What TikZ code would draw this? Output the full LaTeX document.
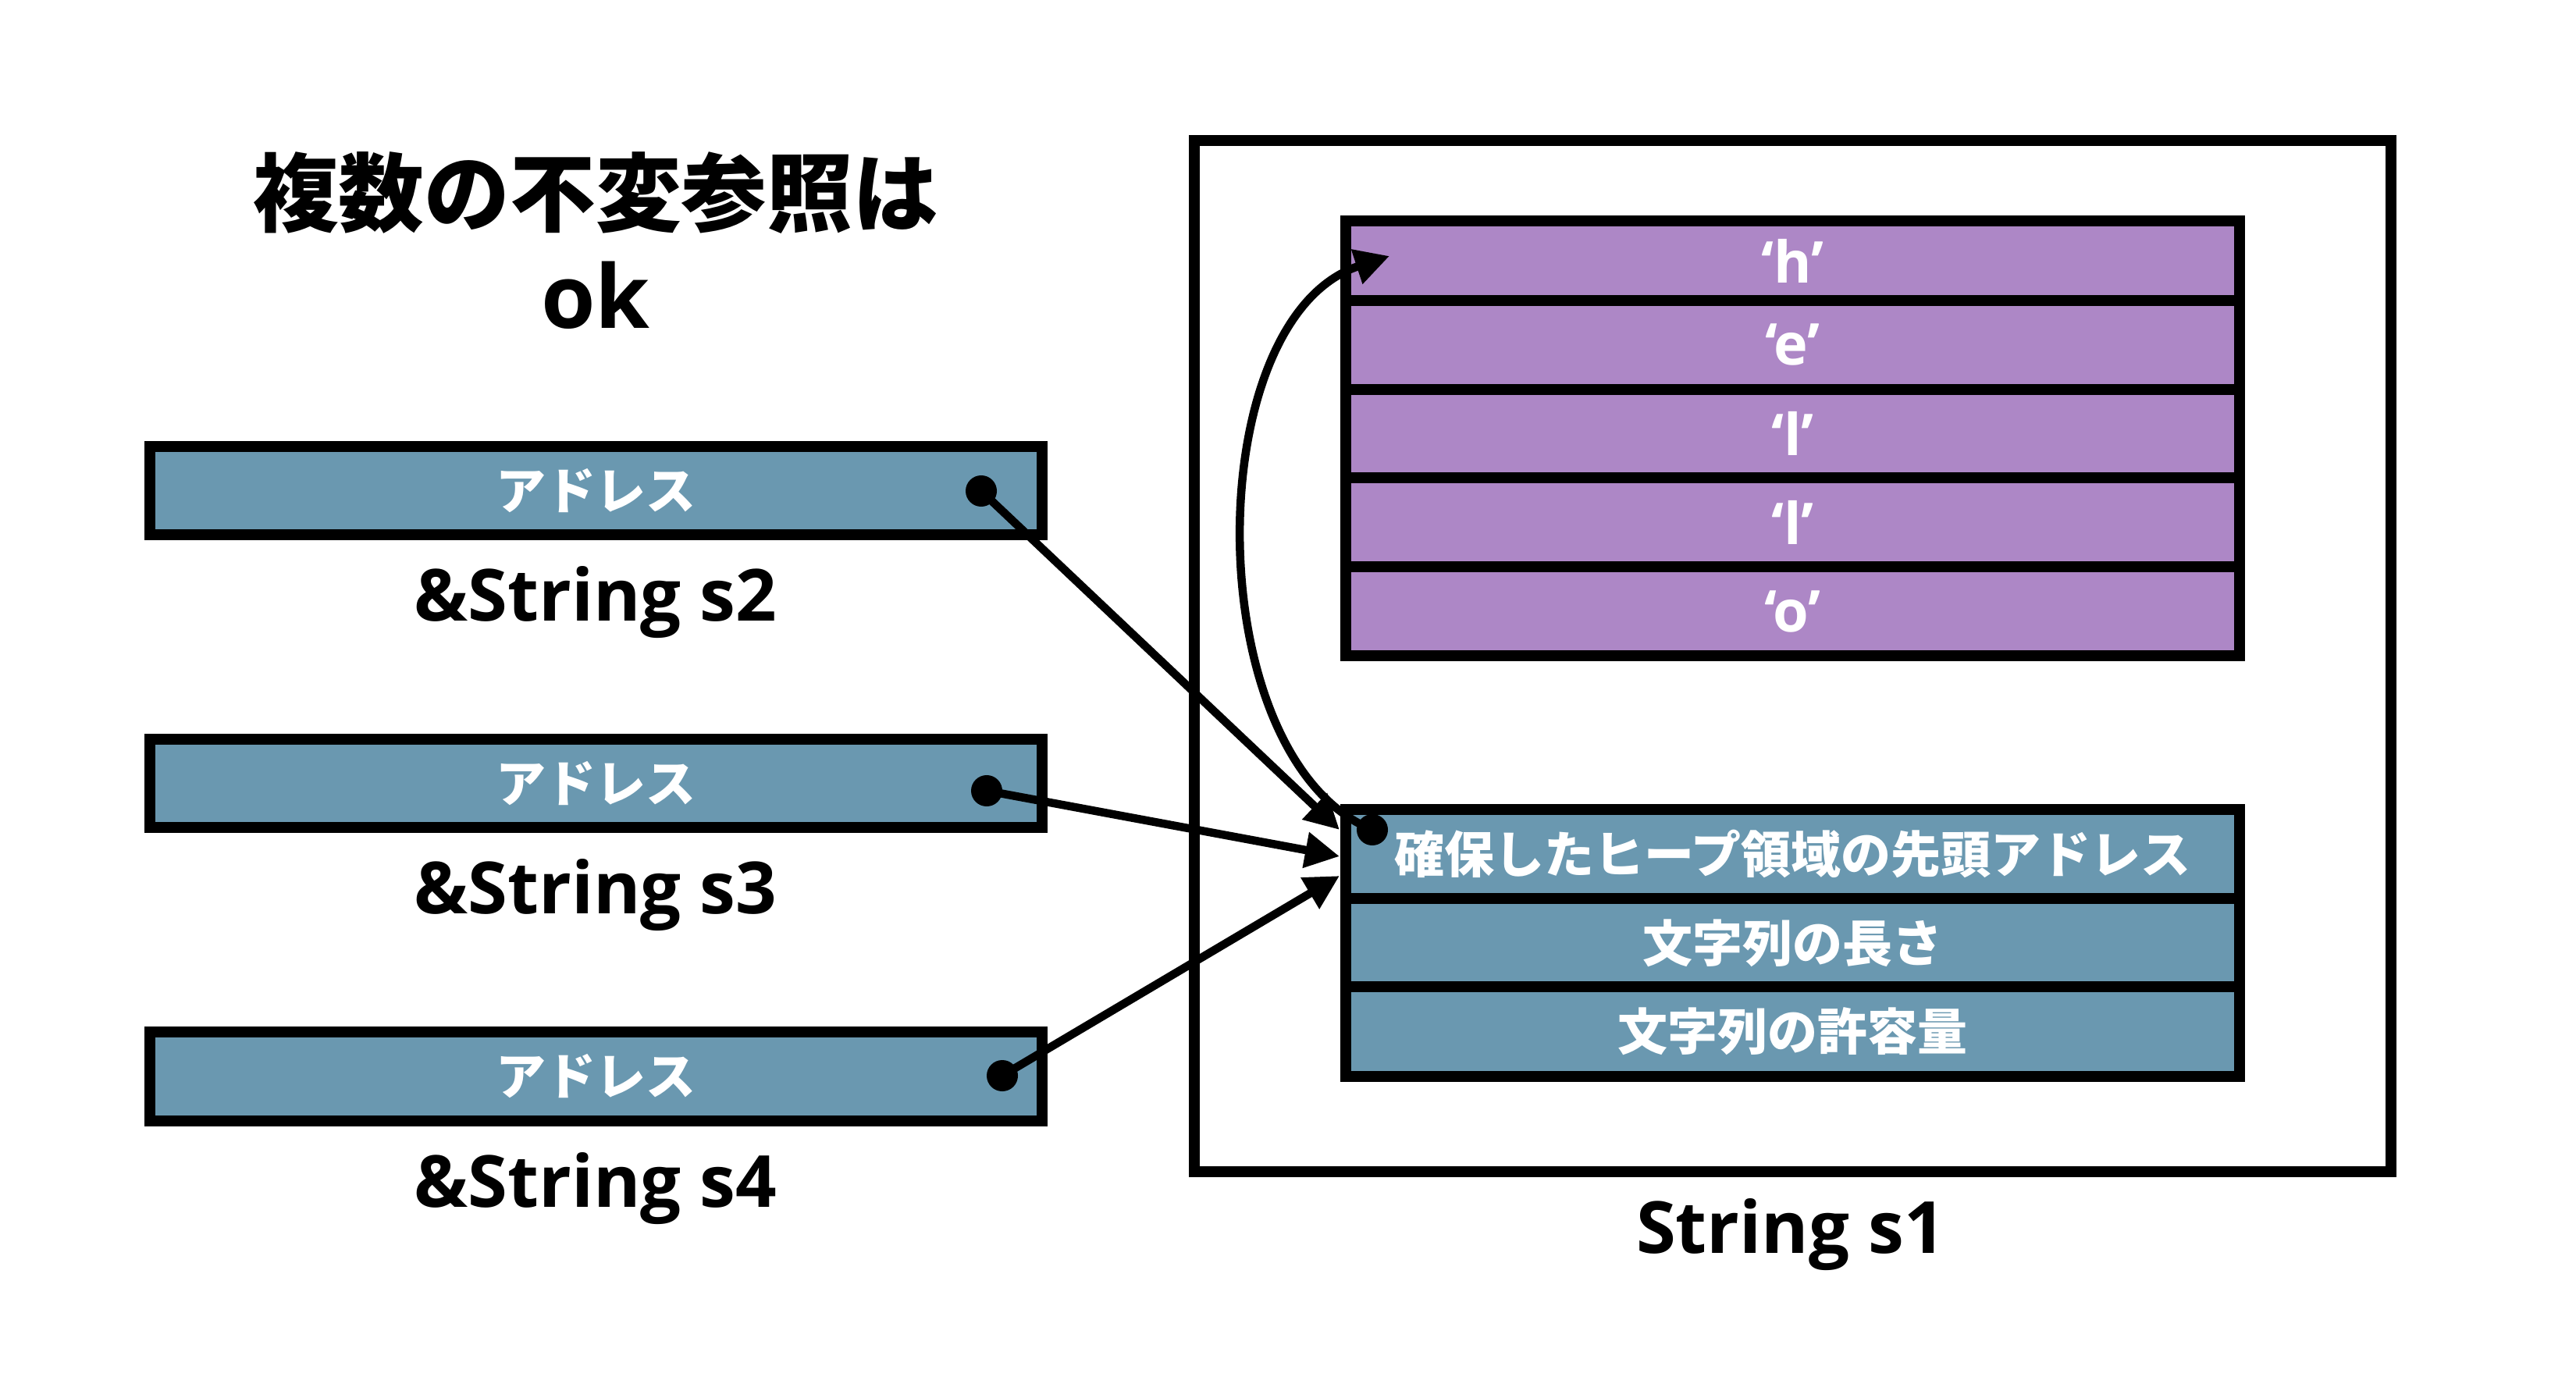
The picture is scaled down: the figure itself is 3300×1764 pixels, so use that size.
\documentclass[tikz,border=0pt]{standalone}
\usepackage{fontspec}
\setmainfont{Open Sans}
\newfontfamily\cjk{Noto Sans CJK JP}
\usetikzlibrary{arrows.meta}
\definecolor{boxblue}{HTML}{6A98B0}
\definecolor{boxpurple}{HTML}{AD87C6}
\begin{document}
\begin{tikzpicture}[x=0.01cm,y=-0.01cm,
  boxframe/.style={draw=black,line width=0.14cm},
  ptrbox/.style={boxframe,fill=boxblue,minimum width=11.43cm,minimum height=1.13cm,inner sep=0pt,text=white,font=\cjk\bfseries\fontsize{18.2}{20}\selectfont},
  heaprow/.style={boxframe,fill=boxpurple,minimum width=11.45cm,inner sep=0pt,text=white,font=\bfseries\fontsize{21}{24}\selectfont},
  metarow/.style={boxframe,fill=boxblue,minimum width=11.45cm,minimum height=1.14cm,inner sep=0pt,text=white,font=\cjk\bfseries\fontsize{18.2}{20}\selectfont},
  lbl/.style={font=\bfseries\fontsize{26.2}{30}\selectfont,anchor=base,inner sep=0pt},
  titletext/.style={font=\cjk\bfseries\fontsize{31.2}{36}\selectfont,inner sep=0pt},
  oktext/.style={font=\bfseries\fontsize{32}{36}\selectfont,anchor=base,inner sep=0pt},
  dotc/.style={circle,fill=black,minimum size=0.4cm,inner sep=0pt},
  ptr/.style={line width=0.105cm,-{Triangle[length=0.44cm,width=0.44cm]}},
]
\useasboundingbox (0,0) rectangle (3300,1764);
% title
\node[titletext] (title) at (763,247) {複数の不変参照は};
\node[oktext] (ok) at (763,421) {ok};
% String s1 frame
\node[boxframe,minimum width=15.33cm,minimum height=13.21cm,inner sep=0pt] (s1box) at (2296.5,840.5) {};
\node[lbl] (s1lab) at (2294,1605) {String s1};
% heap rows
\node[heaprow,minimum height=1.02cm] (h) at (2296.5,334) {‘h’};
\node[heaprow,minimum height=1.14cm] (e) at (2296.5,442) {‘e’};
\node[heaprow,minimum height=1.13cm] (l1) at (2296.5,555.5) {‘l’};
\node[heaprow,minimum height=1.14cm] (l2) at (2296.5,669) {‘l’};
\node[heaprow,minimum height=1.14cm] (o) at (2296.5,783) {‘o’};
% meta rows
\node[metarow] (addr) at (2296.5,1094) {確保したヒープ領域の先頭アドレス};
\node[metarow] (len) at (2296.5,1208) {文字列の長さ};
\node[metarow] (cap) at (2296.5,1321.5) {文字列の許容量};
% references
\node[ptrbox] (s2) at (763.5,628.5) {アドレス};
\node[lbl] (s2lab) at (763,795) {\&String s2};
\node[ptrbox] (s3) at (763.5,1003.5) {アドレス};
\node[lbl] (s3lab) at (763,1170) {\&String s3};
\node[ptrbox] (s4) at (763.5,1379) {アドレス};
\node[lbl] (s4lab) at (763,1546) {\&String s4};
% dots
\node[dotc] (d2) at (1257,629) {};
\node[dotc] (d3) at (1264,1013) {};
\node[dotc] (d4) at (1284,1378) {};
\node[dotc] (pdot) at (1758,1063) {};
% arrow ends
\coordinate (t2) at (1716,1063);
\coordinate (t3) at (1716,1097);
\coordinate (t4) at (1716,1122);
\coordinate (th) at (1780,328);
\draw[ptr] (d2.center) -- (t2);
\draw[ptr] (d3.center) -- (t3);
\draw[ptr] (d4.center) -- (t4);
\draw[ptr] (pdot.center) .. controls (1534,971) and (1535,408) .. (th);
\end{tikzpicture}
\end{document}
